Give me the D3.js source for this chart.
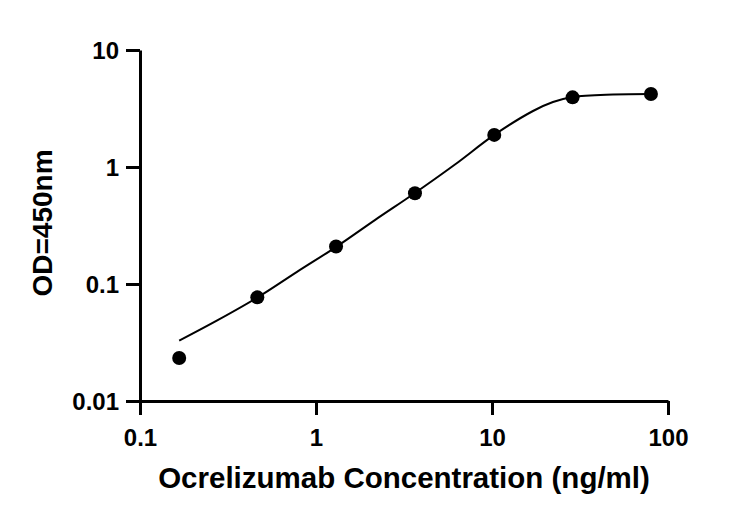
<!DOCTYPE html>
<html>
<head>
<meta charset="utf-8">
<script src="https://cdn.jsdelivr.net/npm/d3@7"></script>
<style>
  body { margin: 0; background: #fff; }
  text { font-family: "Liberation Sans", Arial, sans-serif; font-weight: bold; fill: #000; }
</style>
</head>
<body>
<svg id="chart" width="750" height="520"></svg>
<script>
// measured standards (ng/ml) and OD readings
const concentrations = [0.167, 0.464, 1.30, 3.65, 10.3, 28.7, 80]
const odValues = [0.0233, 0.0769, 0.209, 0.596, 1.88, 3.94, 4.21]

// fitted curve
const curveConc = [0.167, 0.273, 0.465, 0.780, 1.31, 2.16, 3.65, 6.16, 10.3, 17.1, 22.2, 28.7, 48.7, 80]
const curveOD = [0.0328, 0.0486, 0.0767, 0.127, 0.209, 0.352, 0.600, 1.05, 1.88, 3.01, 3.59, 3.97, 4.17, 4.21]

const xTicks = [0.1, 1, 10, 100]
const yTicks = [0.01, 0.1, 1, 10]
const xTitle = 'Ocrelizumab Concentration (ng/ml)'
const yTitle = 'OD=450nm'

const svg = d3.select('#chart')

const x = d3.scaleLog().domain([0.1, 100]).range([140, 668])
const y = d3.scaleLog().domain([0.01, 10]).range([401, 50])

const fmt = d => String(d)

// axes
const xAxis = svg.append('g')
  .attr('transform', 'translate(0,401)')
  .call(d3.axisBottom(x).tickValues(xTicks).tickFormat(fmt).tickSize(14).tickSizeOuter(0).tickPadding(14))
const yAxis = svg.append('g')
  .attr('transform', 'translate(140,0)')
  .call(d3.axisLeft(y).tickValues(yTicks).tickFormat(fmt).tickSize(14).tickSizeOuter(0).tickPadding(7))

for (const ax of [xAxis, yAxis]) {
  ax.selectAll('path, line').attr('stroke', '#000').attr('stroke-width', 3)
  ax.selectAll('text').style('font-size', '24px').style('font-weight', 'bold').attr('fill', '#000')
}
xAxis.selectAll('text').attr('dy', '0.71em')
yAxis.selectAll('text').attr('dy', '0.36em')

// fitted curve
const line = d3.line()
  .x((d, i) => x(curveConc[i]))
  .y(d => y(d))
  .curve(d3.curveCatmullRom.alpha(0.5))

svg.append('path')
  .datum(curveOD)
  .attr('d', line)
  .attr('fill', 'none')
  .attr('stroke', '#000')
  .attr('stroke-width', 2)

// data points
svg.selectAll('.dot')
  .data(odValues)
  .enter()
  .append('circle')
  .attr('class', 'dot')
  .attr('cx', (d, i) => x(concentrations[i]))
  .attr('cy', d => y(d))
  .attr('r', 7)
  .attr('fill', '#000')

// axis titles
svg.append('text')
  .attr('x', 404)
  .attr('y', 488)
  .attr('text-anchor', 'middle')
  .style('font-size', '29.5px')
  .text(xTitle)

svg.append('text')
  .attr('transform', 'translate(52,223) rotate(-90)')
  .attr('text-anchor', 'middle')
  .style('font-size', '28px')
  .text(yTitle)
</script>
</body>
</html>
